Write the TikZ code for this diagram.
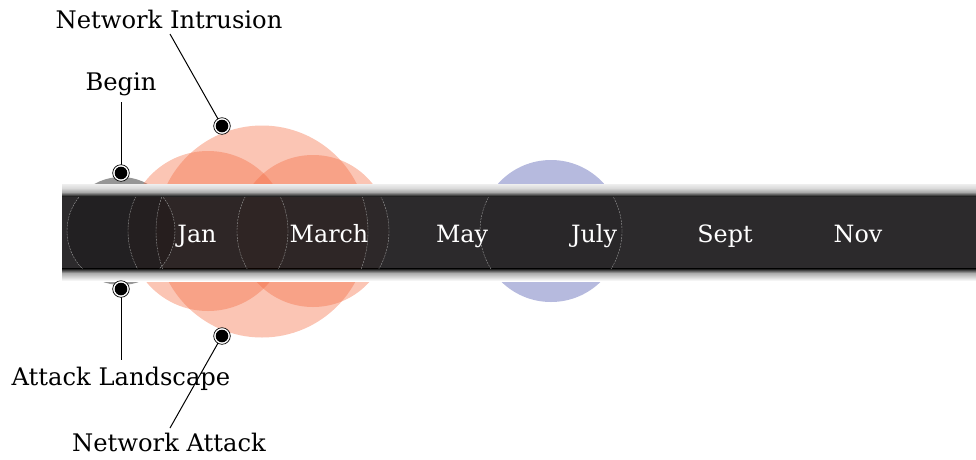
\documentclass[tikz,border=0pt]{standalone}
\usepackage{fontspec}
\setmainfont{DejaVu Serif}
\usetikzlibrary{calc}
\definecolor{bandfill}{RGB}{44,42,44}
\definecolor{beginc}{RGB}{150,150,150}
\definecolor{attackc}{RGB}{244,109,67}
\definecolor{julyc}{RGB}{182,186,222}
\definecolor{rimlight}{RGB}{238,238,238}
\definecolor{rimmid}{RGB}{170,170,170}
\definecolor{embertint}{RGB}{70,25,10}
\begin{document}
\begin{tikzpicture}[x=1pt,y=-1pt,
  month/.style={text=white,font=\fontsize{23.8}{26}\selectfont,inner sep=0,anchor=base},
  callout/.style={text=black,font=\fontsize{24.2}{27}\selectfont,inner sep=0,anchor=base},
  leader/.style={draw=black,line width=1pt},
  bubble/.style={fill=attackc,fill opacity=0.4},
  ember/.style={fill=embertint,opacity=0.07},
  inside/.style={draw=white!60!black,line width=0.4pt,dash pattern=on 2pt off 1pt}
]
\useasboundingbox (0,0) rectangle (976,459);

% event bubbles
\fill[beginc] (121,231) circle[radius=54];
\fill[julyc] (551,231) circle[radius=71];
\fill[bubble] (208,231) circle[radius=80];
\fill[bubble] (313,231) circle[radius=76];
\fill[bubble] (262,231.5) circle[radius=106];

% timeline band with shaded rims
\shade[top color=rimlight,bottom color=rimmid,middle color=rimlight!70!rimmid] (62,184) rectangle (976,192);
\shade[top color=rimmid,bottom color=black] (62,192) rectangle (976,197);
\fill[bandfill] (62,197) rectangle (976,268);
\shade[top color=black,bottom color=rimmid] (62,268) rectangle (976,273);
\shade[top color=rimmid,bottom color=white] (62,273) rectangle (976,281);

% bubbles seen through the band
\begin{scope}
  \clip (62,197) rectangle (976,268);
  \fill[black,opacity=0.22] (121,231) circle[radius=54];
  \fill[black,opacity=0.06] (551,231) circle[radius=71];
  \fill[ember] (208,231) circle[radius=80];
  \fill[ember] (313,231) circle[radius=76];
  \fill[ember] (262,231.5) circle[radius=106];
  \draw[inside] (121,231) circle[radius=54];
  \draw[inside] (551,231) circle[radius=71];
  \draw[inside] (208,231) circle[radius=80];
  \draw[inside] (313,231) circle[radius=76];
  \draw[inside] (262,231.5) circle[radius=106];
\end{scope}

% month labels
\node[month] (jan) at (197,242) {Jan};
\node[month] (mar) at (329,242) {March};
\node[month] (may) at (462,242) {May};
\node[month] (jul) at (594,242) {July};
\node[month] (sep) at (725,242) {Sept};
\node[month] (nov) at (858,242) {Nov};

% callout labels
\node[callout] (intrusion) at (169,28) {Network Intrusion};
\node[callout] (begin) at (121,90) {Begin};
\node[callout] (landscape) at (121,385) {Attack Landscape};
\node[callout] (netattack) at (169,451) {Network Attack};

% callout markers
\coordinate (mIntrusion) at (222,126);
\coordinate (mBegin) at (121,173);
\coordinate (mLandscape) at (121,289);
\coordinate (mAttack) at (222,336);
\coordinate (tIntrusion) at (170,34);
\coordinate (tBegin) at (121,102);
\coordinate (tLandscape) at (121,360);
\coordinate (tAttack) at (170,428);

\draw[leader] (tIntrusion) -- (mIntrusion);
\draw[leader] (tBegin) -- (mBegin);
\draw[leader] (mLandscape) -- (tLandscape);
\draw[leader] (mAttack) -- (tAttack);

\foreach \m in {mIntrusion,mBegin,mLandscape,mAttack}{
  \fill[white,draw=black,line width=0.7pt] (\m) circle[radius=8.3];
  \fill[black] (\m) circle[radius=6.3];
}
\end{tikzpicture}
\end{document}
